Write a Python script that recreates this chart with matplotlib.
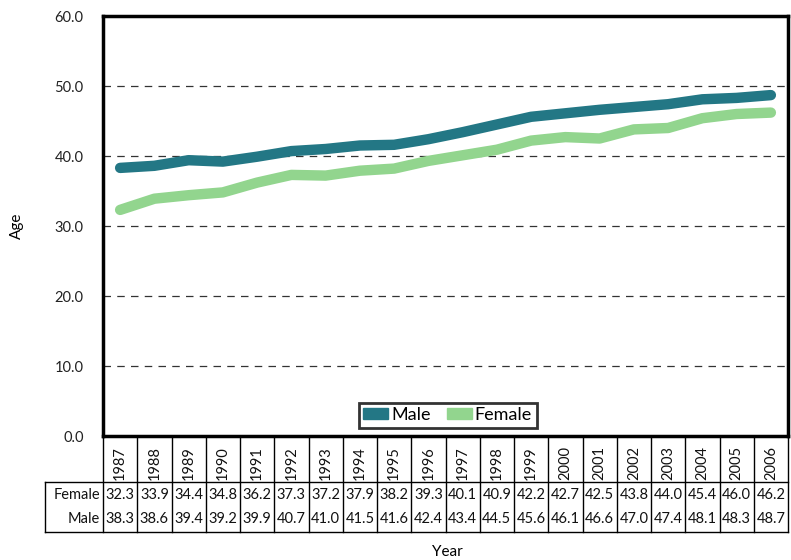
import matplotlib
matplotlib.use("Agg")
import matplotlib.pyplot as plt
from matplotlib.patches import Patch
from matplotlib.transforms import blended_transform_factory

plt.rcParams['font.family'] = ['Lato', 'DejaVu Sans']

years = ['1987', '1988', '1989', '1990', '1991', '1992', '1993', '1994', '1995', '1996',
         '1997', '1998', '1999', '2000', '2001', '2002', '2003', '2004', '2005', '2006']
female = [32.3, 33.9, 34.4, 34.8, 36.2, 37.3, 37.2, 37.9, 38.2, 39.3,
          40.1, 40.9, 42.2, 42.7, 42.5, 43.8, 44.0, 45.4, 46.0, 46.2]
male = [38.3, 38.6, 39.4, 39.2, 39.9, 40.7, 41.0, 41.5, 41.6, 42.4,
        43.4, 44.5, 45.6, 46.1, 46.6, 47.0, 47.4, 48.1, 48.3, 48.7]
yticks = [0, 10, 20, 30, 40, 50, 60]

male_color = '#237785'
female_color = '#92d58e'

W, H = 791, 560
fig = plt.figure(figsize=(W / 100, H / 100), dpi=100)
L, R, T, B = 103, 788, 16, 436
ax = fig.add_axes([L / W, 1 - B / H, (R - L) / W, (B - T) / H])

x = list(range(len(years)))
ax.plot(x, male, color=male_color, lw=7.5, solid_capstyle='round', solid_joinstyle='round', zorder=3)
ax.plot(x, female, color=female_color, lw=7.5, solid_capstyle='round', solid_joinstyle='round', zorder=3)

ax.set_xlim(-0.5, len(years) - 0.5)
ax.set_ylim(0, 60)
ax.set_yticks(yticks)
ax.set_yticklabels([f'{v:.1f}' for v in yticks], fontsize=10.5, color='#222222')
ax.tick_params(axis='y', length=0, pad=14)
ax.set_xticks([])
for v in yticks[1:-1]:
    ax.axhline(v, color='#333333', lw=0.9, ls=(0, (6, 5)), zorder=1)
for s in ax.spines.values():
    s.set_linewidth(2.5)
    s.set_color('black')

ax.set_ylabel('Age', fontsize=11, labelpad=22)

handles = [Patch(color=male_color, label='Male'), Patch(color=female_color, label='Female')]
leg = ax.legend(handles=handles, loc='lower center', bbox_to_anchor=(0.503, 0.02), ncol=2,
                fontsize=13, frameon=True, fancybox=False, edgecolor='black',
                handlelength=1.4, handleheight=0.6, handletextpad=0.15, columnspacing=0.9,
                borderpad=0.25, borderaxespad=0)
leg.get_frame().set_linewidth(2.0)
leg.get_frame().set_facecolor('white')

# table below axes
tr = blended_transform_factory(ax.transData, fig.transFigure)
def fy(py):
    return 1 - py / H
lw_t = 1.0
y_top, y_hdr, y_bot = 436, 482, 532
x_left = -0.5 - (L - 45) / ((R - L) / len(years))
for i in range(len(years) + 1):
    xb = i - 0.5
    ax.plot([xb, xb], [fy(y_top), fy(y_bot)], transform=tr, color='black', lw=lw_t, clip_on=False)
ax.plot([x_left, x_left], [fy(y_hdr), fy(y_bot)], transform=tr, color='black', lw=lw_t, clip_on=False)
ax.plot([x_left, len(years) - 0.5], [fy(y_hdr), fy(y_hdr)], transform=tr, color='black', lw=lw_t, clip_on=False)
ax.plot([x_left, len(years) - 0.5], [fy(y_bot), fy(y_bot)], transform=tr, color='black', lw=lw_t, clip_on=False)

for i, yr in enumerate(years):
    ax.text(i, fy(480), yr, transform=tr, rotation=90, ha='center', va='bottom', fontsize=10.5, color='#111111')
    ax.text(i, fy(495), f'{female[i]:.1f}', transform=tr, ha='center', va='center', fontsize=10.5, color='#111111')
    ax.text(i, fy(519), f'{male[i]:.1f}', transform=tr, ha='center', va='center', fontsize=10.5, color='#111111')
ax.text(-0.58, fy(495), 'Female', transform=tr, ha='right', va='center', fontsize=10.5, color='#111111')
ax.text(-0.58, fy(519), 'Male', transform=tr, ha='right', va='center', fontsize=10.5, color='#111111')

fig.text(447 / W, fy(552), 'Year', ha='center', va='center', fontsize=11)

fig.savefig('out.png', dpi=100)
